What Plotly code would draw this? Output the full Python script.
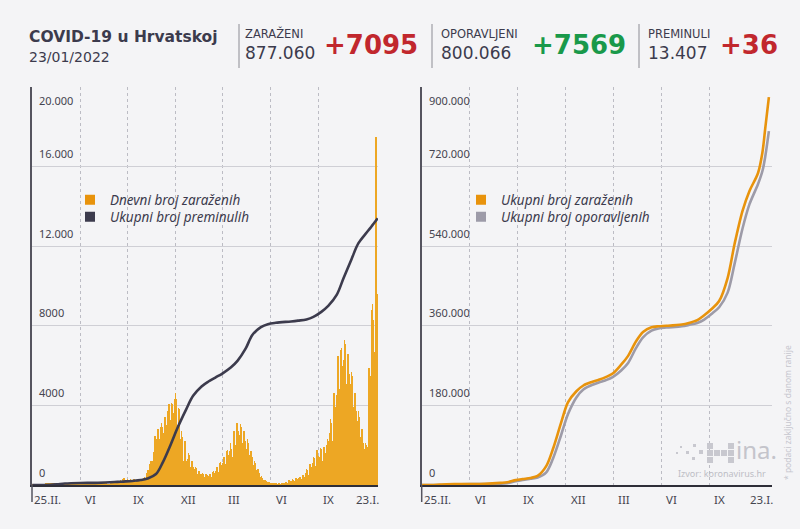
import plotly.graph_objects as go
import pandas as pd

# ---------------- DATA ----------------
start_date = "2020-02-25"
end_date = "2022-01-23"

# daily new cases (Tue 25.II.2020 ... Sun 23.I.2022), one row per week (Mon..Sun)
daily_cases = [
    1, 2, 0, 0, 2, 2,
    0, 1, 0, 3, 1, 1, 2,
    0, 2, 3, 4, 5, 14, 7,
    7, 16, 8, 25, 24, 26, 48,
    62, 67, 55, 62, 56, 71, 56,
    79, 96, 76, 61, 48, 61, 70,
    38, 47, 66, 71, 48, 43, 31,
    28, 41, 54, 36, 30, 24, 41,
    23, 19, 25, 22, 15, 17, 18,
    9, 19, 6, 13, 15, 6, 4,
    12, 2, 5, 9, 6, 7, 7,
    1, 5, 2, 1, 3, 3, 0,
    0, 3, 1, 3, 1, 1, 1,
    1, 0, 1, 0, 0, 2, 0,
    0, 2, 1, 0, 0, 0, 2,
    0, 1, 0, 0, 3, 1, 2,
    0, 6, 12, 16, 25, 20, 30,
    20, 45, 60, 95, 60, 90, 50,
    40, 52, 54, 78, 70, 80, 55,
    40, 75, 58, 94, 90, 60, 50,
    48, 80, 70, 125, 140, 70, 55,
    40, 60, 50, 60, 55, 40, 33,
    20, 30, 40, 45, 48, 50, 60,
    40, 90, 110, 120, 180, 160, 100,
    90, 150, 160, 190, 180, 140, 105,
    60, 160, 200, 210, 250, 190, 120,
    110, 220, 300, 370, 340, 260, 180,
    120, 200, 260, 270, 300, 220, 150,
    100, 190, 260, 290, 300, 230, 140,
    90, 180, 250, 270, 290, 220, 140,
    80, 160, 230, 240, 230, 190, 110,
    60, 170, 220, 230, 240, 200, 130,
    90, 250, 330, 360, 400, 330, 200,
    180, 450, 590, 660, 760, 700, 500,
    450, 1050, 1200, 1120, 1000, 1200, 800,
    600, 1400, 1650, 1950, 2450, 2100, 1350,
    900, 2300, 2650, 2800, 2750, 2300, 1500,
    1050, 2500, 2900, 3100, 2900, 2600, 1900,
    1200, 2600, 3350, 3400, 3300, 3000, 2100,
    1100, 2900, 3700, 4000, 4050, 3500, 2300,
    1250, 3250, 4100, 4000, 4050, 3600, 2500,
    1500, 3700, 4300, 4620, 4300, 3300, 2400,
    1400, 3000, 3850, 3800, 3300, 2700, 1800,
    1000, 2300, 2700, 2400, 1500, 1200, 900,
    500, 1800, 2200, 1900, 1200, 1000, 600,
    300, 1300, 1600, 1500, 1200, 900, 500,
    250, 1000, 1200, 1100, 900, 700, 400,
    200, 800, 900, 850, 700, 550, 300,
    150, 650, 700, 650, 550, 450, 250,
    120, 550, 600, 550, 500, 400, 220,
    110, 500, 550, 520, 480, 380, 200,
    120, 450, 560, 560, 470, 400, 210,
    140, 550, 650, 700, 600, 480, 260,
    180, 700, 850, 880, 800, 650, 350,
    250, 900, 1100, 1150, 1000, 850, 450,
    320, 1100, 1350, 1400, 1250, 1050, 600,
    400, 1400, 1700, 1750, 1500, 1300, 750,
    500, 1700, 2100, 2000, 1800, 1500, 800,
    550, 1400, 2600, 2700, 2400, 2000, 1100,
    800, 2600, 3100, 3000, 2700, 2300, 1300,
    750, 2500, 3050, 2900, 2500, 2100, 1200,
    650, 2200, 2700, 2500, 2200, 1800, 1000,
    500, 1800, 2300, 2100, 1800, 1500, 800,
    400, 1400, 1700, 1600, 1400, 1100, 600,
    280, 1000, 1200, 1100, 950, 750, 400,
    170, 650, 800, 700, 600, 450, 250,
    100, 400, 450, 350, 300, 250, 140,
    60, 220, 250, 230, 180, 150, 80,
    40, 140, 160, 130, 110, 90, 50,
    25, 90, 100, 80, 70, 50, 30,
    20, 70, 80, 70, 60, 45, 25,
    15, 60, 75, 70, 55, 45, 25,
    20, 80, 100, 95, 80, 70, 35,
    25, 120, 160, 150, 140, 110, 60,
    40, 170, 230, 210, 190, 160, 80,
    50, 220, 280, 270, 250, 200, 100,
    70, 290, 360, 340, 300, 240, 120,
    90, 330, 400, 380, 330, 280, 140,
    100, 380, 480, 450, 400, 330, 160,
    130, 600, 800, 750, 650, 500, 260,
    170, 800, 1050, 1000, 900, 700, 350,
    220, 1100, 1400, 1350, 1200, 950, 450,
    280, 1350, 1750, 1650, 1450, 1150, 550,
    300, 1400, 1850, 1800, 1550, 1200, 600,
    320, 1500, 1900, 1850, 1600, 1250, 650,
    400, 2000, 2300, 2200, 1900, 1500, 800,
    600, 2600, 3300, 3100, 2700, 2200, 1100,
    900, 3800, 4600, 4400, 3900, 3200, 1600,
    1300, 4500, 6300, 6500, 5600, 4800, 2400,
    1600, 5700, 6800, 6900, 6000, 5000, 2600,
    1800, 6300, 7300, 7100, 6100, 5100, 2700,
    1700, 5800, 6600, 6400, 5600, 4500, 2400,
    1500, 5100, 5700, 5500, 4700, 3900, 2000,
    1200, 4100, 4600, 4300, 3700, 3100, 1600,
    900, 3200, 3700, 3400, 2900, 2400, 1200,
    700, 2500, 2800, 2600, 2100, 1200, 900,
    500, 1800, 2100, 2000, 1800, 1000, 700,
    1900, 5200, 5900, 4600, 5500, 4800, 2800,
    2900, 8800, 9100, 8300, 7400, 6700, 4100,
    3900, 10800, 17500, 10100, 9600, 8100, 7095,
]

# cumulative series
cum_dates = [
    "2020-02-25", "2020-03-15", "2020-04-01", "2020-04-15", "2020-05-01",
    "2020-06-01", "2020-07-01", "2020-08-01", "2020-08-15", "2020-09-01",
    "2020-09-15", "2020-10-01", "2020-10-15", "2020-11-01", "2020-11-15",
    "2020-12-01", "2020-12-15", "2021-01-01", "2021-01-15", "2021-02-01",
    "2021-02-15", "2021-03-01", "2021-03-15", "2021-04-01", "2021-04-15",
    "2021-05-01", "2021-05-15", "2021-06-01", "2021-06-15", "2021-07-01",
    "2021-08-01", "2021-08-15", "2021-09-01", "2021-09-15", "2021-10-01",
    "2021-10-15", "2021-11-01", "2021-11-15", "2021-12-01", "2021-12-15",
    "2022-01-01", "2022-01-10", "2022-01-16", "2022-01-23",
]
total_deaths = [
    0, 0, 6, 33, 75,
    103, 109, 139, 158, 180,
    205, 250, 330, 550, 1150,
    2050, 2900, 3800, 4480, 4950,
    5200, 5400, 5600, 5900, 6250,
    6850, 7550, 7930, 8080, 8150,
    8220, 8260, 8320, 8450, 8700,
    9000, 9550, 10400, 11350, 12150,
    12700, 12980, 13180, 13407,
]
total_cases = [
    1, 50, 1000, 1700, 2080,
    2250, 2830, 4880, 6300, 11000,
    13500, 16000, 20500, 42000, 82000,
    140000, 187000, 212000, 225000, 233000,
    238000, 244000, 252000, 272000, 292000,
    325000, 346000, 356500, 359000, 360000,
    363000, 366500, 373000, 384000, 399000,
    416000, 468000, 545000, 620000, 665000,
    705000, 752000, 810000, 877060,
]
total_recovered = [
    0, 0, 70, 450, 1400,
    2100, 2200, 2900, 4100, 8500,
    11500, 14400, 17000, 28000, 60000,
    112000, 160000, 198000, 216000, 226000,
    232000, 237000, 244000, 259000, 276000,
    310000, 334000, 349000, 354000, 356000,
    359000, 362000, 366500, 374000, 388000,
    402000, 435000, 500000, 580000, 635000,
    680000, 710000, 745000, 800066,
]

# axis ticks
grid_dates = ["2020-06-01", "2020-09-05", "2020-12-11", "2021-03-16", "2021-06-21", "2021-09-25"]
grid_labels = ["VI", "IX", "XII", "III", "VI", "IX"]
start_label = "25.II."
end_label = "23.I."
left_yvals = [0, 4000, 8000, 12000, 16000, 20000]
left_ytext = ["0", "4000", "8000", "12.000", "16.000", "20.000"]
right_yvals = [0, 180000, 360000, 540000, 720000, 900000]
right_ytext = ["0", "180.000", "360.000", "540.000", "720.000", "900.000"]

assert len(daily_cases) == 699
dates = pd.date_range(start_date, periods=len(daily_cases), freq="D")

# ---------------- STYLE ----------------
W, H = 800, 529
BG = "#f4f4f6"
DARK = "#3c3b4d"
ORANGE = "#eda724"
ORANGE_L = "#e8930c"
GRAY = "#9d9ba8"
RED = "#c1272d"
GREEN = "#19994a"
HEAD = "DejaVu Sans"
TICK = "Noto Sans"


def px(x):
    return x / W


def py(y):
    return 1 - y / H


fig = go.Figure()

# left panel
fig.add_trace(go.Bar(x=dates, y=daily_cases, marker=dict(color=ORANGE, line=dict(width=0)),
                     showlegend=False, xaxis="x", yaxis="y"))
fig.add_trace(go.Scatter(x=cum_dates, y=total_deaths, mode="lines",
                         line=dict(color=DARK, width=2.6, shape="spline", smoothing=1.0),
                         showlegend=False, xaxis="x", yaxis="y"))
# right panel
fig.add_trace(go.Scatter(x=cum_dates, y=total_recovered, mode="lines",
                         line=dict(color=GRAY, width=2.6, shape="spline", smoothing=0.9),
                         showlegend=False, xaxis="x2", yaxis="y2"))
fig.add_trace(go.Scatter(x=cum_dates, y=total_cases, mode="lines",
                         line=dict(color=ORANGE_L, width=2.6, shape="spline", smoothing=0.9),
                         showlegend=False, xaxis="x2", yaxis="y2"))

# legend entries (square swatches), one legend box per entry so spacing matches
legend_items = [
    ("Dnevni broj zaraženih", ORANGE_L, "legend", "x", "y", 70, 200),
    ("Ukupni broj preminulih", DARK, "legend2", "x", "y", 70, 217),
    ("Ukupni broj zaraženih", ORANGE_L, "legend3", "x2", "y2", 461, 200),
    ("Ukupni broj oporavljenih", GRAY, "legend4", "x2", "y2", 461, 217),
]
for name, col, lg, xa, ya, _, _ in legend_items:
    fig.add_trace(go.Scatter(x=[None], y=[None], mode="markers", name=name,
                             marker=dict(symbol="square", size=10, color=col),
                             legend=lg, xaxis=xa, yaxis=ya))

xcommon = dict(type="date", tickvals=grid_dates, showticklabels=False, ticks="",
               showgrid=True, gridcolor="#bcbcc4", griddash="dot", gridwidth=1,
               showline=True, linecolor="#2e2e38", linewidth=2, zeroline=False,
               fixedrange=True)
ycommon = dict(showticklabels=False, ticks="", showgrid=True, gridcolor="#cfcfd5",
               gridwidth=1, showline=True, linecolor="#55545f", linewidth=1.5,
               zeroline=False, fixedrange=True)

left_range = ["2020-02-24 12:00", "2022-01-23 12:00"]
right_range = ["2020-02-25", "2022-01-29 06:00"]

legend_layout = {}
for name, col, lg, xa, ya, lx, ly in legend_items:
    legend_layout[lg] = dict(x=px(lx), y=py(ly), xanchor="left", yanchor="middle",
                             bgcolor="rgba(0,0,0,0)", borderwidth=0,
                             font=dict(family=TICK, size=13.5, color=DARK, style="italic"))

fig.update_layout(
    width=W, height=H,
    margin=dict(l=0, r=0, t=0, b=0),
    paper_bgcolor=BG, plot_bgcolor=BG,
    bargap=0,
    xaxis=dict(domain=[px(32), px(378)], range=left_range, anchor="y", **xcommon),
    yaxis=dict(domain=[py(485), py(87)], range=[0, 20000], tickvals=left_yvals,
               anchor="x", **ycommon),
    xaxis2=dict(domain=[px(421.7), px(772)], range=right_range, anchor="y2", **xcommon),
    yaxis2=dict(domain=[py(485), py(87)], range=[0, 900000], tickvals=right_yvals,
                anchor="x2", **ycommon),
    showlegend=True,
    **legend_layout,
)

ann = []


def text(x, y, s, size, color=DARK, family=HEAD, xanchor="left", **kw):
    ann.append(dict(x=px(x), y=py(y), xref="paper", yref="paper", text=s, showarrow=False,
                    xanchor=xanchor, yanchor="middle",
                    font=dict(family=family, size=size, color=color), **kw))


# header
text(27, 37, "<b>COVID-19 u Hrvatskoj</b>", 15.5)
text(27, 57, "23/01/2022", 14)
text(243, 34, "ZARAŽENI", 11.5)
text(243, 53, "877.060", 17)
text(322, 45, "<b>+7095</b>", 26, RED)
text(439, 34, "OPORAVLJENI", 11.5)
text(439, 53, "800.066", 17)
text(530, 45, "<b>+7569</b>", 26, GREEN)
text(646, 34, "PREMINULI", 11.5)
text(646, 53, "13.407", 17)
text(718, 45, "<b>+36</b>", 26, RED)

# x tick labels (placed right of the grid lines) and y tick labels (above grid lines)
for xa, ya, yvals, ytext in [("x", "y", left_yvals, left_ytext), ("x2", "y2", right_yvals, right_ytext)]:
    for d, lab in zip(grid_dates, grid_labels):
        ann.append(dict(x=d, xref=xa, y=py(499), yref="paper", text=lab, showarrow=False,
                        xanchor="left", yanchor="middle", xshift=3,
                        font=dict(family=TICK, size=11.5, color="#45444f")))
    ann.append(dict(x=0, xref=xa + " domain", y=py(499), yref="paper", text=start_label,
                    showarrow=False, xanchor="left", yanchor="middle", xshift=0,
                    font=dict(family=TICK, size=11.5, color="#45444f")))
    ann.append(dict(x=1, xref=xa + " domain", y=py(499), yref="paper", text=end_label,
                    showarrow=False, xanchor="right", yanchor="middle", xshift=3,
                    font=dict(family=TICK, size=11.5, color="#45444f")))
    for v, t in zip(yvals, ytext):
        top = v == yvals[-1]
        ann.append(dict(x=0, xref=xa + " domain", y=v, yref=ya, text=t, showarrow=False,
                        xanchor="left", yanchor="middle", xshift=5,
                        yshift=-13 if top else 13,
                        font=dict(family=TICK, size=11, color="#45444f")))

# source / logo / footnote
text(768, 473, "Izvor: koronavirus.hr", 9, "#bdbdc5", TICK, xanchor="right")
text(734, 449, "ina.", 24, "#c4c4cb", TICK)
ann.append(dict(x=px(787), y=py(413), xref="paper", yref="paper",
                text="* podaci zaključno s danom ranije", showarrow=False, textangle=-90,
                xanchor="center", yanchor="middle",
                font=dict(family=TICK, size=8.5, color="#c6c6ce")))
fig.update_layout(annotations=ann)

shapes = []
# header separators
for sx in [239, 432, 639]:
    shapes.append(dict(type="line", xref="paper", yref="paper", x0=px(sx), x1=px(sx),
                       y0=py(24), y1=py(68), line=dict(color="#8c8c94", width=1)))
# y-axis line extensions below the baseline
for sx in [32, 421.7]:
    shapes.append(dict(type="line", xref="paper", yref="paper", x0=px(sx), x1=px(sx),
                       y0=py(485), y1=py(502), line=dict(color="#55545f", width=1.5)))
# small logo squares
for (x0, y0, s) in [(707, 443, 6), (707, 450, 6), (707, 457, 6), (714, 450, 6), (721, 450, 6),
                    (728, 443, 6), (728, 450, 6), (728, 457, 6), (699, 450, 4), (693, 444, 3),
                    (692, 457, 3), (686, 451, 3), (680, 446, 2), (676, 452, 2)]:
    shapes.append(dict(type="rect", xref="paper", yref="paper", x0=px(x0), x1=px(x0 + s),
                       y0=py(y0 + s), y1=py(y0), line=dict(width=0), fillcolor="#c8c8cf"))
fig.update_layout(shapes=shapes)

fig.write_html("out.html", config={"displayModeBar": False},
               post_script="document.body.style.margin='0px';document.body.style.overflow='hidden';")
